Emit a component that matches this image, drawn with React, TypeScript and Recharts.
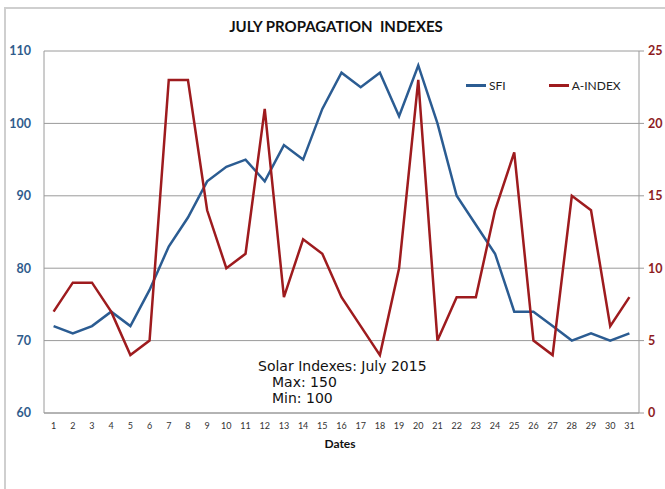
import React from "react";
import { LineChart, Line, XAxis, YAxis, CartesianGrid } from "recharts";

const days: string[] = Array.from({ length: 31 }, (_, i) => String(i + 1));
const sfi: number[] = [72, 71, 72, 74, 72, 77, 83, 87, 92, 94, 95, 92, 97, 95, 102, 107, 105, 107, 101, 108, 100, 90, 86, 82, 74, 74, 72, 70, 71, 70, 71];
const aIndex: number[] = [7, 9, 9, 7, 4, 5, 23, 23, 14, 10, 11, 21, 8, 12, 11, 8, 6, 4, 10, 23, 5, 8, 8, 14, 18, 5, 4, 15, 14, 6, 8];
const leftTicks: number[] = [60, 70, 80, 90, 100, 110];
const rightTicks: number[] = [0, 5, 10, 15, 20, 25];

const data = days.map((d, i) => ({ day: d, sfi: sfi[i], a: aIndex[i] }));

const BLUE = "#2B5C92";
const RED = "#9E1B1E";
const FONT = "Lato, 'Open Sans', sans-serif";

export default function App() {
  return (
    <div style={{ position: "absolute", left: 0, top: 0, width: 665, height: 489, background: "#fff", overflow: "hidden" }}>
      <div style={{ position: "absolute", left: 4, top: 7, width: 700, height: 500, borderLeft: "2px solid #cfcfcf", borderTop: "2px solid #cfcfcf" }} />
      <div style={{ position: "absolute", left: 0, top: 17, width: 672, textAlign: "center", fontFamily: FONT, fontWeight: 700, fontSize: 15, color: "#111" }}>
        JULY PROPAGATION&nbsp; INDEXES
      </div>
      <div style={{ position: "absolute", left: 0, top: 0 }}>
        <LineChart width={665} height={489} data={data} margin={{ top: 51, right: 0, left: 0, bottom: 46 }}>
          <CartesianGrid yAxisId="left" vertical={false} stroke="#9a9a9a" strokeWidth={1} />
          <XAxis
            dataKey="day"
            interval={0}
            padding={{ left: 9.6, right: 9.6 }}
            tickLine={false}
            axisLine={{ stroke: "#9a9a9a" }}
            tick={{ fontSize: 9, fill: "#333", fontFamily: FONT }}
            tickMargin={4}
            height={30}
          />
          <YAxis
            yAxisId="left"
            domain={[60, 110]}
            ticks={leftTicks}
            width={44}
            tickLine={false}
            tickSize={6}
            tickMargin={7}
            axisLine={{ stroke: "#9a9a9a" }}
            tick={{ fontSize: 12.5, fill: "#2F5C8C", fontWeight: 700, fontFamily: FONT }}
          />
          <YAxis
            yAxisId="right"
            orientation="right"
            domain={[0, 25]}
            ticks={rightTicks}
            width={26}
            tickLine={{ stroke: "#9a9a9a" }}
            tickSize={5}
            tickMargin={4}
            axisLine={{ stroke: "#9a9a9a" }}
            tick={{ fontSize: 12.5, fill: "#8E1C1F", fontWeight: 700, fontFamily: FONT }}
          />
          <Line yAxisId="left" dataKey="sfi" name="SFI" stroke={BLUE} strokeWidth={2.5} dot={false} isAnimationActive={false} />
          <Line yAxisId="right" dataKey="a" name="A-INDEX" stroke={RED} strokeWidth={2.5} dot={false} isAnimationActive={false} />
        </LineChart>
      </div>
      <div style={{ position: "absolute", left: 466, top: 78, display: "flex", fontFamily: FONT, fontSize: 12, color: "#222" }}>
        <div style={{ display: "flex", alignItems: "center", marginRight: 43 }}>
          <span style={{ display: "inline-block", width: 20, height: 2.5, background: BLUE, marginRight: 3 }} />
          <span>SFI</span>
        </div>
        <div style={{ display: "flex", alignItems: "center" }}>
          <span style={{ display: "inline-block", width: 20, height: 2.5, background: RED, marginRight: 3 }} />
          <span>A-INDEX</span>
        </div>
      </div>
      <div style={{ position: "absolute", left: 0, top: 436, width: 680, textAlign: "center", fontFamily: FONT, fontWeight: 700, fontSize: 12, color: "#111" }}>
        Dates
      </div>
      <div style={{ position: "absolute", left: 258, top: 358, fontFamily: "'DejaVu Sans', Verdana, sans-serif", fontSize: 14, lineHeight: "16px", color: "#111" }}>
        <div>Solar Indexes: July 2015</div>
        <div style={{ paddingLeft: 14 }}>Max: 150</div>
        <div style={{ paddingLeft: 14 }}>Min: 100</div>
      </div>
    </div>
  );
}
